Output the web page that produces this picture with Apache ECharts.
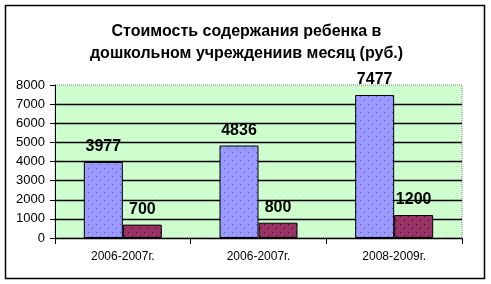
<!DOCTYPE html>
<html><head><meta charset="utf-8">
<script src="https://cdn.jsdelivr.net/npm/echarts@6/dist/echarts.min.js"></script>
<style>html,body{margin:0;padding:0;background:#fff}#c{width:491px;height:284px}</style>
</head><body><div id="c"></div>
<script>
var categories = ['2006-2007г.', '2006-2007г.', '2008-2009г.'];
var seriesA = [3977, 4836, 7477];
var seriesB = [700, 800, 1200];
var titleLines = ['Стоимость содержания ребенка в', 'дошкольном учреждениив месяц (руб.)'];

function pattern(bg, dot, step) {
  var c = document.createElement('canvas');
  c.width = step; c.height = step;
  var g = c.getContext('2d');
  g.fillStyle = bg; g.fillRect(0, 0, step, step);
  g.fillStyle = dot;
  g.fillRect(0, 0, 1, 1);
  g.fillRect(step / 2, step / 2, 1, 1);
  return {image: c, repeat: 'repeat'};
}

var chart = echarts.init(document.getElementById('c'), null, {renderer: 'canvas'});
var lbl = {show: true, position: 'top', distance: 7, fontFamily: 'Liberation Sans, Arial', fontWeight: 'bold', fontSize: 16, color: '#000'};
chart.setOption({
  animation: false,
  backgroundColor: '#fff',
  title: {
    text: titleLines.join('\n'),
    left: 241.5, textAlign: 'center', top: 16,
    textStyle: {fontFamily: 'Liberation Sans, Arial', fontWeight: 'bold', fontSize: 16, lineHeight: 22, color: '#000'}
  },
  graphic: [{
    type: 'rect', shape: {x: 5.5, y: 5.5, width: 479, height: 273},
    style: {fill: 'none', stroke: '#000', lineWidth: 1.5}, z: 100, silent: true
  }],
  grid: {
    left: 55, top: 85, right: 29, bottom: 46, show: true,
    backgroundColor: pattern('#CCFFCC', '#ffffff', 8),
    borderColor: '#808080', borderWidth: 1, borderType: 'dotted'
  },
  xAxis: {
    type: 'category', data: categories,
    axisLine: {lineStyle: {color: '#000', width: 1}},
    axisTick: {show: true, length: 6, lineStyle: {color: '#000'}},
    axisLabel: {fontFamily: 'Liberation Sans, Arial', fontSize: 12, color: '#000', margin: 13}
  },
  yAxis: {
    type: 'value', min: 0, max: 8000, interval: 1000,
    axisLine: {show: true, lineStyle: {color: '#000', width: 1}},
    axisTick: {show: true, length: 5, lineStyle: {color: '#000'}},
    axisLabel: {fontFamily: 'Liberation Sans, Arial', fontSize: 13, color: '#000', margin: 10,
      formatter: function (v) { return String(v); }},
    splitLine: {show: true, showMaxLine: false, lineStyle: {color: '#000', width: 1.3}}
  },
  series: [{
    type: 'bar', data: seriesA, barWidth: 39, barGap: '0%',
    itemStyle: {color: pattern('#9999FF', '#5555bb', 8), borderColor: '#000', borderWidth: 1},
    label: lbl
  }, {
    type: 'bar', data: seriesB, barWidth: 39, barGap: '0%',
    itemStyle: {color: pattern('#993366', '#330022', 8), borderColor: '#000', borderWidth: 1},
    label: lbl
  }]
});
</script></body></html>
